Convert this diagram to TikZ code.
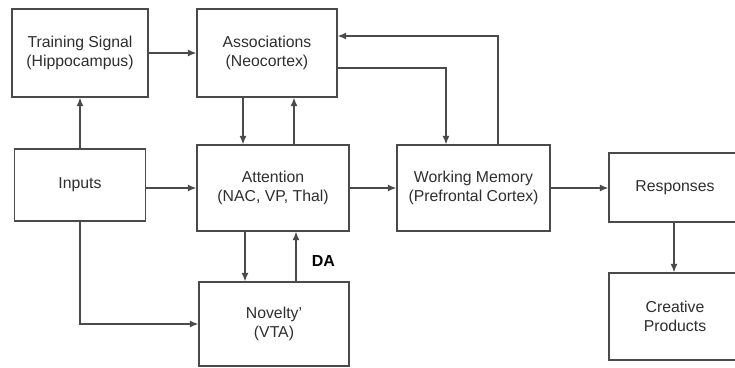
\documentclass[tikz,border=0pt]{standalone}
\usepackage{fontspec}
\setmainfont{Liberation Sans}
\usetikzlibrary{arrows.meta}
\definecolor{boxline}{HTML}{4A4A4A}
\definecolor{boxtext}{HTML}{2E2E2E}
\tikzset{x=1bp, y=-1bp,
  brain box/.style={draw=boxline, line width=1.3bp, align=center,
        text=boxtext, inner sep=0pt,
        font=\fontsize{15.8bp}{19bp}\selectfont},
  link/.style={draw=boxline, line width=1.2bp,
        -{Latex[length=8.5bp,width=7bp]}},
  link label/.style={font=\bfseries\fontsize{16bp}{18bp}\selectfont, text=black}
}
\begin{document}
\begin{tikzpicture}
\useasboundingbox (0,0) rectangle (735,367);
\clip (0,0) rectangle (735,367);
% boxes
\node[brain box, minimum width=136bp, minimum height=88bp] (train) at (80,53)
  {Training Signal\\(Hippocampus)};
\node[brain box, minimum width=140bp, minimum height=88bp] (assoc) at (267,53)
  {Associations\\(Neocortex)};
\node[brain box, minimum width=131bp, minimum height=72bp] (inputs) at (80,185)
  {Inputs};
\node[brain box, minimum width=152bp, minimum height=86bp] (attn) at (273,188)
  {Attention\\(NAC, VP, Thal)};
\node[brain box, minimum width=150bp, minimum height=84bp] (novel) at (274,324)
  {Novelty'\\(VTA)};
\node[brain box, minimum width=153bp, minimum height=86bp] (wm) at (473.5,188)
  {Working Memory\\(Prefrontal Cortex)};
\node[brain box, minimum width=132bp, minimum height=69bp] (resp) at (675,187.5)
  {Responses};
\node[brain box, minimum width=132bp, minimum height=87bp] (creat) at (675,316.5)
  {Creative\\Products};
% links
\draw[link] (train.east) -- (assoc.west |- train.east);
\draw[link] (inputs.north) -- (train.south);
\draw[link] (inputs.east |- attn.west) -- (attn.west);
\draw[link] (inputs.south) |- (novel.west);
\draw[link] ([xshift=-24bp]assoc.south) coordinate (a1) -- (a1 |- attn.north);
\draw[link] ([xshift=21bp]attn.north) coordinate (a2) -- (a2 |- assoc.south);
\draw[link] ([xshift=-28bp]attn.south) coordinate (a3) -- (a3 |- novel.north);
\draw[link] ([xshift=22bp]novel.north) coordinate (a4) -- (a4 |- attn.south)
  node[link label, pos=0.4, right=12bp] {DA};
\draw[link] ([yshift=-15bp]assoc.east) -| ([xshift=-27.5bp]wm.north);
\draw[link] ([xshift=24.5bp]wm.north) |- ([yshift=17bp]assoc.east);
\draw[link] (attn.east) -- (wm.west);
\draw[link] (wm.east) -- (resp.west |- wm.east);
\draw[link] ([xshift=-1bp]resp.south) coordinate (a5) -- (a5 |- creat.north);
\end{tikzpicture}
\end{document}
